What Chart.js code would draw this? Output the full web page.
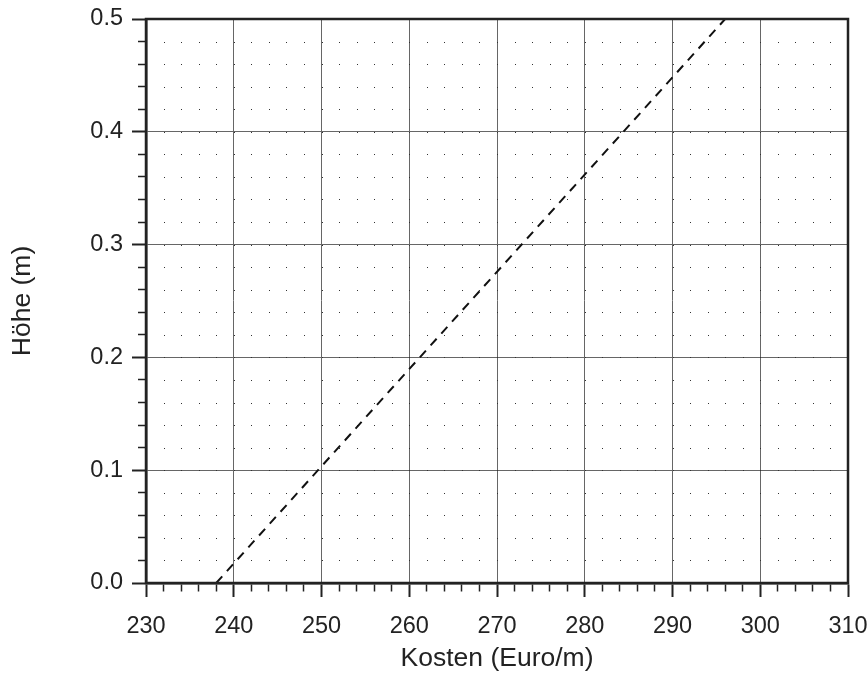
<!DOCTYPE html>
<html>
<head>
<meta charset="utf-8">
<script src="https://cdn.jsdelivr.net/npm/chart.js@4/dist/chart.umd.min.js"></script>
<style>
  html, body { margin: 0; padding: 0; background: #fff; }
  #wrap { width: 868px; height: 675px; }
</style>
</head>
<body>
<div id="wrap"><canvas id="chart"></canvas></div>
<script>
// data
const costs = [238, 296];
const heights = [0, 0.5];

const xMin = 230, xMax = 310, xMinor = 2, xMajor = 10;
const yMin = 0, yMax = 0.5, yMinor = 0.02, yMajor = 0.1;

const ink = "#222";
const font = "'Liberation Sans', Arial, sans-serif";

function isMajor(v, step) {
  return Math.abs(v / step - Math.round(v / step)) < 1e-6;
}

// dotted minor grid + frame, placed via the chart's own scales
const dotGrid = {
  id: "dotGrid",
  beforeDatasetsDraw(chart) {
    const { ctx, scales } = chart;
    ctx.save();
    ctx.fillStyle = "#333";
    for (const tx of scales.x.ticks) {
      if (tx.value <= xMin || tx.value >= xMax) continue;
      const px = Math.round(scales.x.getPixelForValue(tx.value));
      for (const ty of scales.y.ticks) {
        if (ty.value <= yMin + 1e-9 || ty.value >= yMax - 1e-9) continue;
        const py = Math.round(scales.y.getPixelForValue(ty.value));
        ctx.fillRect(px, py, 1, 1);
      }
    }
    ctx.restore();
  },
  afterDatasetsDraw(chart) {
    const { ctx, chartArea: a } = chart;
    ctx.save();
    ctx.strokeStyle = ink;
    ctx.lineWidth = 2.5;
    ctx.strokeRect(a.left, a.top, a.right - a.left, a.bottom - a.top);
    ctx.restore();
  }
};

new Chart(document.getElementById("chart"), {
  type: "scatter",
  data: {
    datasets: [
      {
        data: costs.map((c, i) => ({ x: c, y: heights[i] })),
        showLine: true,
        borderColor: "#111",
        borderWidth: 2,
        borderDash: [9, 7],
        pointRadius: 0,
        fill: false
      }
    ]
  },
  options: {
    responsive: true,
    maintainAspectRatio: false,
    animation: false,
    layout: { padding: { top: 19, right: 20, left: 0, bottom: 0 } },
    plugins: {
      legend: { display: false },
      tooltip: { enabled: false }
    },
    scales: {
      x: {
        type: "linear",
        min: xMin,
        max: xMax,
        afterFit: scale => {
          scale.height = 92;
          scale.paddingLeft = 0;
          scale.paddingRight = 0;
        },
        ticks: {
          stepSize: xMinor,
          autoSkip: false,
          maxRotation: 0,
          minRotation: 0,
          padding: 15,
          color: ink,
          font: { family: font, size: 23.5 },
          callback: v => (isMajor(v, xMajor) ? String(v) : "")
        },
        grid: {
          color: c => (isMajor(c.tick.value, xMajor) ? "#666" : "rgba(0,0,0,0)"),
          lineWidth: 1,
          tickLength: 14,
          tickColor: ink,
          tickWidth: c => (isMajor(c.tick.value, xMajor) ? 2 : 1.5),
          tickBorderDash: c => (isMajor(c.tick.value, xMajor) ? [] : [7, 100])
        },
        border: { color: ink, width: 2.5 },
        title: {
          display: true,
          text: "Kosten (Euro/m)",
          color: ink,
          padding: { top: 0, bottom: 0 },
          font: { family: font, size: 26.5 }
        }
      },
      y: {
        type: "linear",
        min: yMin,
        max: yMax,
        afterFit: scale => {
          scale.width = 146;
          scale.paddingTop = 0;
          scale.paddingBottom = 0;
        },
        ticks: {
          stepSize: yMinor,
          autoSkip: false,
          padding: 9,
          color: ink,
          font: { family: font, size: 23.5 },
          callback: v => (isMajor(v, yMajor) ? v.toFixed(1) : "")
        },
        grid: {
          color: c => (isMajor(c.tick.value, yMajor) ? "#666" : "rgba(0,0,0,0)"),
          lineWidth: 1,
          tickLength: 14,
          tickColor: ink,
          tickWidth: c => (isMajor(c.tick.value, yMajor) ? 2 : 1.5),
          tickBorderDash: c => (isMajor(c.tick.value, yMajor) ? [] : [0, 6, 8, 100])
        },
        border: { color: ink, width: 2.5 },
        title: {
          display: true,
          text: "Höhe (m)",
          color: ink,
          padding: { top: 7, bottom: 0 },
          font: { family: font, size: 26.5 }
        }
      }
    }
  },
  plugins: [dotGrid]
});
</script>
</body>
</html>
